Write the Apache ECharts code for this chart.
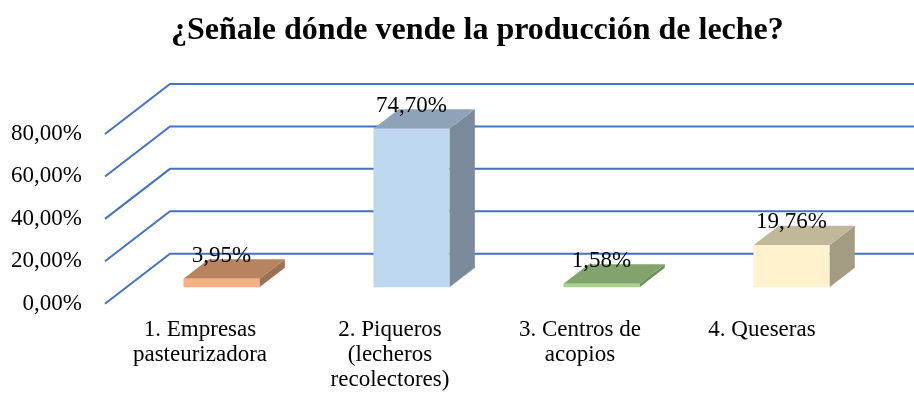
<!DOCTYPE html>
<html>
<head>
<meta charset="utf-8">
<script src="https://cdn.jsdelivr.net/npm/echarts@6/dist/echarts.min.js"></script>
<style>
  html, body { margin: 0; padding: 0; background: #ffffff; }
  #chart { width: 914px; height: 394px; }
</style>
</head>
<body>
<div id="chart"></div>
<script>
// Chart data
const chartTitle = '¿Señale dónde vende la producción de leche?';
const categories = [
  '1. Empresas\npasteurizadora',
  '2. Piqueros\n(lecheros\nrecolectores)',
  '3. Centros de\nacopios',
  '4. Queseras'
];
const values = [3.95, 74.70, 1.58, 19.76];
const yTicks = [0, 20, 40, 60, 80];

// Face colours of each 3D column: front, top, right side
const frontColors = ['#F4B183', '#BDD7EE', '#A9D18E', '#FFF2CC'];
const topColors   = ['#B7845F', '#8FA3B8', '#82A36C', '#C1B89A'];
const sideColors  = ['#9A7154', '#7A8A9A', '#6E8C5C', '#A39B82'];

// Perspective of the floor (front edge -> back wall) in pixels
const DEPTH_DX = 65;
const DEPTH_DY = -50;
// Column depth placement as fractions of the floor depth
const COL_START = 0.33;
const COL_DEPTH = 0.39;
const COL_WIDTH = 0.4; // fraction of category band

const FONT = '"Liberation Serif", "Times New Roman", serif';
const pct = v => v.toFixed(2).replace('.', ',') + '%';

const chart = echarts.init(document.getElementById('chart'), null, { renderer: 'canvas' });

// Back-wall gridlines with their diagonal run along the side wall
function renderGridLine(params, api) {
  const cs = params.coordSys;
  const y = api.coord([0, api.value(1)])[1];
  return {
    type: 'polyline',
    shape: {
      points: [
        [cs.x, y],
        [cs.x + DEPTH_DX, y + DEPTH_DY],
        [cs.x + cs.width + DEPTH_DX + 40, y + DEPTH_DY]
      ]
    },
    style: { stroke: '#4472C4', lineWidth: 2, fill: null },
    silent: true
  };
}

// 3D column: front rectangle, top and right side faces, value label
function renderColumn(params, api) {
  const i = params.dataIndex;
  const idx = api.value(0);
  const val = api.value(1);
  const top = api.coord([idx, val]);
  const base = api.coord([idx, 0]);
  const band = api.size([1, 0])[0];
  const w = band * COL_WIDTH;
  const ox = DEPTH_DX * COL_START, oy = DEPTH_DY * COL_START;
  const dx = DEPTH_DX * COL_DEPTH, dy = DEPTH_DY * COL_DEPTH;

  const x0 = top[0] - w / 2 + ox;
  const x1 = x0 + w;
  const yTop = top[1] + oy;
  const yBot = base[1] + oy;

  return {
    type: 'group',
    children: [
      {
        type: 'polygon',
        shape: { points: [[x1, yTop], [x1, yBot], [x1 + dx, yBot + dy], [x1 + dx, yTop + dy]] },
        style: { fill: sideColors[i] }
      },
      {
        type: 'polygon',
        shape: { points: [[x0, yTop], [x1, yTop], [x1 + dx, yTop + dy], [x0 + dx, yTop + dy]] },
        style: { fill: topColors[i] }
      },
      {
        type: 'rect',
        shape: { x: x0, y: yTop, width: w, height: yBot - yTop },
        style: { fill: frontColors[i] }
      },
      {
        type: 'text',
        x: (x0 + x1) / 2,
        y: yTop + dy + 8,
        style: {
          text: pct(val),
          font: '23px ' + FONT,
          fill: '#000000',
          align: 'center',
          verticalAlign: 'bottom'
        }
      }
    ]
  };
}

chart.setOption({
  animation: false,
  backgroundColor: '#ffffff',
  title: {
    text: chartTitle,
    left: 171,
    top: 15,
    padding: 0,
    textStyle: {
      fontFamily: FONT,
      fontWeight: 'bold',
      fontSize: 32,
      color: '#000000'
    }
  },
  grid: { left: 105, right: 49, top: 134, bottom: 90.3, containLabel: false },
  xAxis: {
    type: 'category',
    data: categories,
    axisLine: { show: false },
    axisTick: { show: false },
    splitLine: { show: false },
    axisLabel: {
      interval: 0,
      margin: 14,
      fontFamily: FONT,
      fontSize: 23,
      lineHeight: 25,
      color: '#000000',
      formatter: (v, i) => i === 3 ? '{q|' + v + '}' : v,
      rich: {
        q: { fontFamily: FONT, fontSize: 23, lineHeight: 25, color: '#000000', padding: [0, 16, 0, 0] }
      }
    }
  },
  yAxis: {
    type: 'value',
    min: 0,
    max: 80,
    interval: 20,
    axisLine: { show: false },
    axisTick: { show: false },
    splitLine: { show: false },
    axisLabel: {
      margin: 23,
      fontFamily: FONT,
      fontSize: 23,
      color: '#000000',
      formatter: v => pct(v)
    }
  },
  series: [
    {
      type: 'custom',
      name: 'gridlines',
      clip: false,
      silent: true,
      z: 1,
      renderItem: renderGridLine,
      data: yTicks.map(v => [0, v])
    },
    {
      type: 'custom',
      name: 'columns',
      clip: false,
      z: 2,
      renderItem: renderColumn,
      data: values.map((v, i) => [i, v])
    }
  ]
});
</script>
</body>
</html>
